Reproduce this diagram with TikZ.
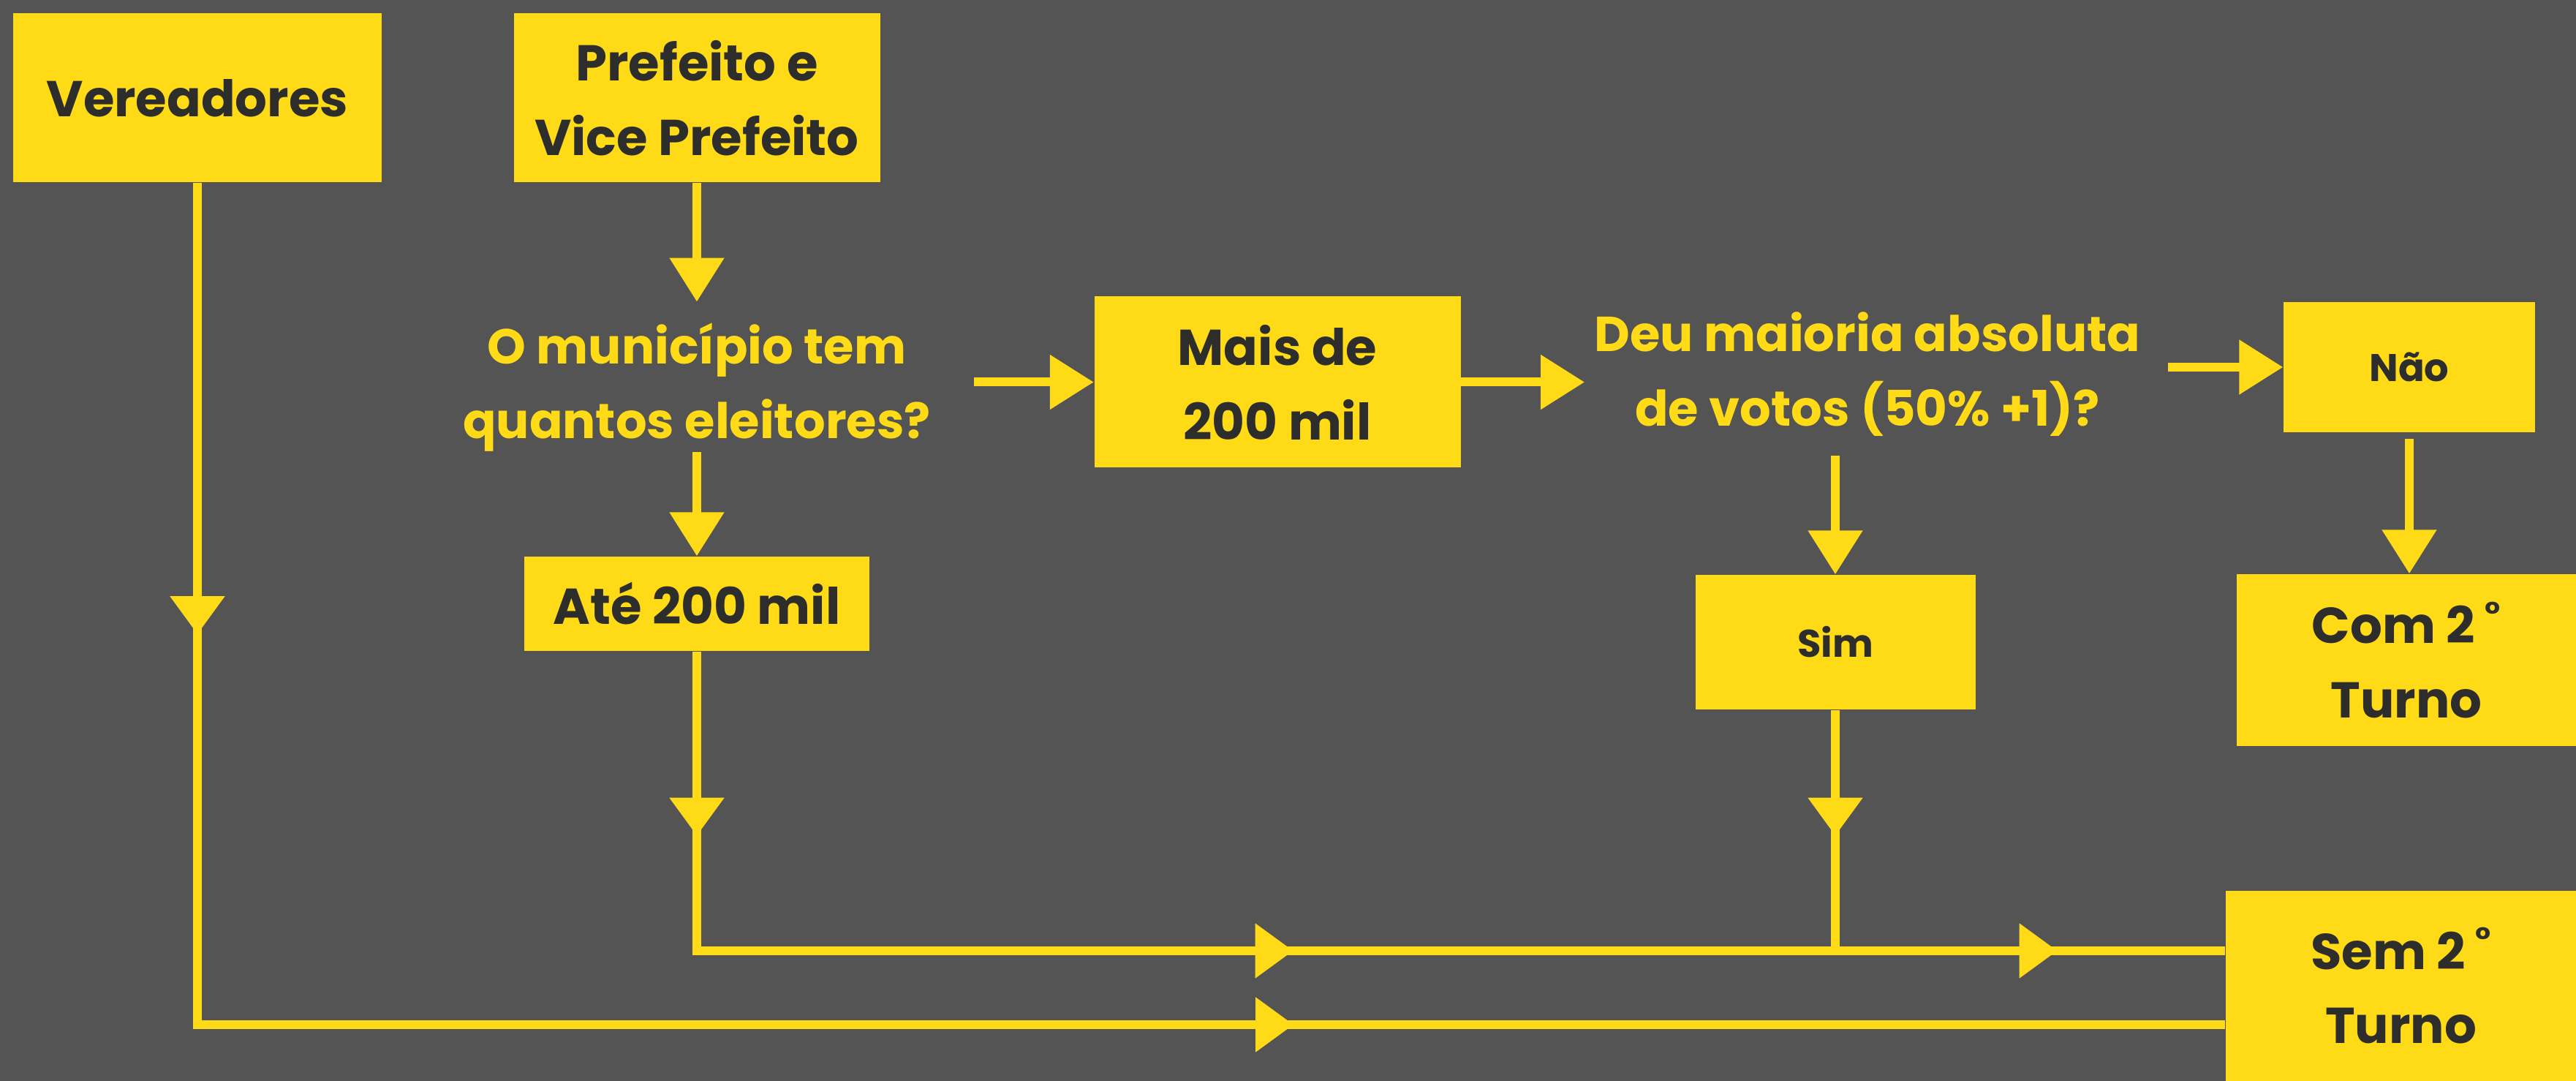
\documentclass[tikz,border=0pt]{standalone}
\usepackage{fontspec}
\setmainfont{Poppins}
\usetikzlibrary{arrows.meta, decorations.markings, positioning}
\definecolor{fundo}{HTML}{545454}
\definecolor{amarelo}{HTML}{FFDB17}
\definecolor{escuro}{HTML}{2D2D2B}
\newcommand{\grau}{\hspace{0.2em}\raisebox{0.35em}{\fontsize{13}{13}\selectfont °}}
\tikzset{>={Triangle[length=6mm,width=7.2mm]}}
\tikzset{caixa/.style={fill=amarelo, text=escuro, inner sep=0pt, align=center,
    font=\bfseries\fontsize{19.6}{29}\selectfont},
  caixinha/.style={caixa, font=\bfseries\fontsize{15}{20}\selectfont},
  pergunta/.style={text=amarelo, inner sep=0pt, align=center,
    font=\bfseries\fontsize{19.1}{29}\selectfont},
  linha/.style={draw=amarelo, color=amarelo, line width=1.2mm},
  meio/.style={postaction={decorate, decoration={markings,
    mark=at position #1 with {\arrow{Triangle[length=5.2mm,width=7.2mm]}}}}}}

\begin{document}
\begin{tikzpicture}
	\fill[fundo] (0,0) rectangle (35.23,14.78);
	\useasboundingbox (0,0) rectangle (35.23,14.78);
			\node (Ver) at (2.70,13.44) [caixa, minimum width=5.03cm, minimum height=2.31cm]{Vereadores};
			\node (Pref) at (9.53,13.44) [caixa, minimum width=5.01cm, minimum height=2.31cm]{Prefeito e\\Vice Prefeito};
			\node (Q1) at (9.53,9.48) [pergunta]{O município tem\\quantos eleitores?};
			\node (Mais) at (17.47,9.555) [caixa, minimum width=5.01cm, minimum height=2.34cm]{Mais de\\200 mil};
			\node (Q2) at (25.54,9.66) [pergunta, inner xsep=1.3mm]{Deu maioria absoluta\\de votos (50\% +1)?};
			\node (Nao) at (32.95,9.76) [caixinha, minimum width=3.44cm, minimum height=1.78cm]{Não};
			\node (Ate) at (9.53,6.525) [caixa, minimum width=4.72cm, minimum height=1.29cm]{Até 200 mil};
			\node (Sim) at (25.1,6.0) [caixinha, minimum width=3.83cm, minimum height=1.84cm]{Sim};
			\node (Com) at (32.91,5.755) [caixa, minimum width=4.64cm, minimum height=2.35cm]{Com 2\grau\\Turno};
			\node (Sem) at (32.835,1.30) [caixa, minimum width=4.79cm, minimum height=2.60cm]{Sem 2\grau\\Turno};
			\coordinate (J1) at (9.53,1.78);
			\coordinate (J2) at (2.70,0.77);
			\draw [linha,->,shorten >=2.9mm](Pref)--(Q1); \draw [linha,->](Q1)--(Ate);
			\draw [linha,->,shorten <=5.9mm](Q1.east |- Mais)--(Mais);
			\draw [linha,->](Mais)--(Q2.west |- Mais);
			\draw [linha,->,shorten <=2.4mm](Q2.east |- Nao)--(Nao);
			\draw [linha,->,shorten <=2.5mm](Sim |- Q2.south)--(Sim);
			\draw [linha,->,shorten <=0.8mm](Nao)--(Nao |- Com.north);
			\draw [linha,meio=6.17cm,meio=26.5cm](Ver)--(J2)--(J2 -| Sem.west);
			\draw [linha,meio=2.52cm,meio=12.25cm,meio=22.7cm](Ate)--(J1)--(J1 -| Sem.west);
			\draw [linha,meio=1.72cm](Sim)--(Sim |- J1);
		\end{tikzpicture}
\end{document}
